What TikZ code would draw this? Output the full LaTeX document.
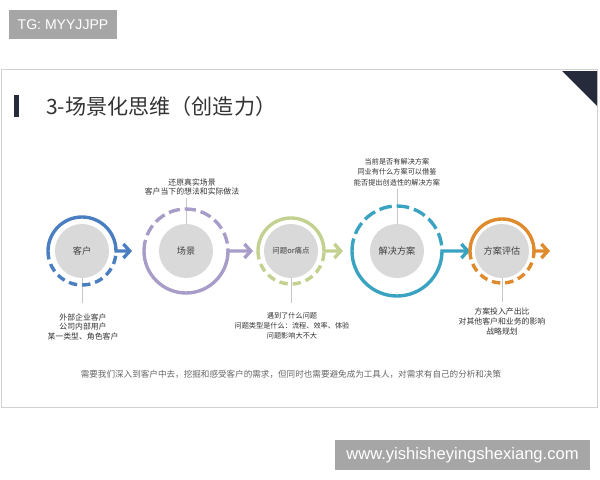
\documentclass[tikz,border=0pt]{standalone}
\usepackage{fontspec}
\newfontfamily\cjk{Noto Sans CJK SC}
\newfontfamily\wmfont{Liberation Sans}
\usetikzlibrary{arrows.meta}
\definecolor{cblue}{HTML}{4A7EC0}
\definecolor{cpurple}{HTML}{A89CC8}
\definecolor{cgreen}{HTML}{C3D190}
\definecolor{cteal}{HTML}{3AA3C2}
\definecolor{corange}{HTML}{DF8A2C}
\definecolor{diskgray}{HTML}{D9D9D9}
\definecolor{navy}{HTML}{262B3B}
\definecolor{wmgray}{HTML}{A6A6A6}
\begin{document}
\begin{tikzpicture}[x=0.025cm,y=0.025cm,font=\cjk,
    disk/.style={circle,fill=diskgray,minimum size=1.35cm,inner sep=0pt,text=black!75,font=\cjk\fontsize{6.5}{7}\selectfont},
    ring/.style={line width=2.4pt},
    leader/.style={black!22,line width=0.6pt},
    note/.style={align=center,inner sep=0pt,text=black!80,font=\cjk\fontsize{5.6}{7.1}\selectfont},
    wm/.style={fill=wmgray,text=white,inner sep=0pt}]
    \useasboundingbox (0,0) rectangle (600,-480);
    % watermarks
    \node[wm,minimum width=2.7cm,minimum height=0.725cm,font=\wmfont\fontsize{10}{12}\selectfont] (tg) at (63,-24.5) {TG: MYYJJPP};
    \node[wm,minimum width=6.375cm,minimum height=0.75cm,font=\wmfont\fontsize{11.8}{14}\selectfont] (site) at (462.5,-455) {www.yishisheyingshexiang.com};
    % slide
    \draw[black!18,line width=1.2pt,fill=white] (1.5,-69.5) rectangle (597.5,-407.5);
    \fill[navy] (562,-71) -- (597,-71) -- (597,-106) -- cycle;
    \fill[navy] (14,-95) rectangle (19,-117);
    \node[anchor=west,inner sep=0pt,text=black!80,font=\cjk\fontsize{15}{18}\selectfont] (title) at (46,-106) {3-场景化思维（创造力）};
    % steps
    \node[disk] (c1) at (82,-251) {客户};
    \node[disk] (c2) at (186,-251) {场景};
    \node[disk,font=\cjk\fontsize{5.3}{6}\selectfont] (c3) at (291,-251) {问题or痛点};
    \node[disk] (c4) at (397,-251) {解决方案};
    \node[disk] (c5) at (502,-251) {方案评估};
    % notes
    \node[note] (t1) at (83,-327) {外部企业客户\\公司内部用户\\某一类型、角色客户};
    \node[note] (t2) at (192,-187) {还原真实场景\\客户当下的想法和实际做法};
    \node[note,font=\cjk\fontsize{5.1}{7.1}\selectfont] (t3) at (292,-326) {遇到了什么问题\\问题类型是什么：流程、效率、体验\\问题影响大不大};
    \node[note,font=\cjk\fontsize{5.1}{7.6}\selectfont] (t4) at (397,-172) {当前是否有解决方案\\同业有什么方案可以借鉴\\能否提出创造性的解决方案};
    \node[note] (t5) at (502,-321.5) {方案投入产出比\\对其他客户和业务的影响\\战略规划};
    \draw[leader,shorten >=7pt] (c1.south) -- (c1.south |- t1.north);
    \draw[leader,shorten >=1.5pt] (c2.north) -- (c2.north |- t2.south);
    \draw[leader,shorten >=7pt] (c3.south) -- (c3.south |- t3.north);
    \draw[leader,shorten >=2pt] (c4.north) -- (c4.north |- t4.south);
    \draw[leader,shorten >=4pt] (c5.south) -- (c5.south |- t5.north);
    % rings and arrows
    \foreach \n/\r/\col/\s/\d/\len/\on in {c1/34/cblue/0/360/16/6,c2/42/cpurple/360/0/25/8,c3/33/cgreen/0/360/19/6,c4/45/cteal/360/0/28/9,c5/32/corange/0/360/16/6}{
        \draw[ring,\col,dash pattern=on \on pt off 3.5pt] (\n.center) ++(180:\r) arc (180:\d:\r);
        \draw[ring,\col,-{Straight Barb[length=4.5pt,width=10pt]}] (\n.center) ++(180:\r) arc (180:\s:\r) -- ++(\len,0);
    }
    \node[text=black!60,font=\cjk\fontsize{6.1}{7}\selectfont] (summary) at (291,-374) {需要我们深入到客户中去，挖掘和感受客户的需求，但同时也需要避免成为工具人，对需求有自己的分析和决策};
\end{tikzpicture}
\end{document}
